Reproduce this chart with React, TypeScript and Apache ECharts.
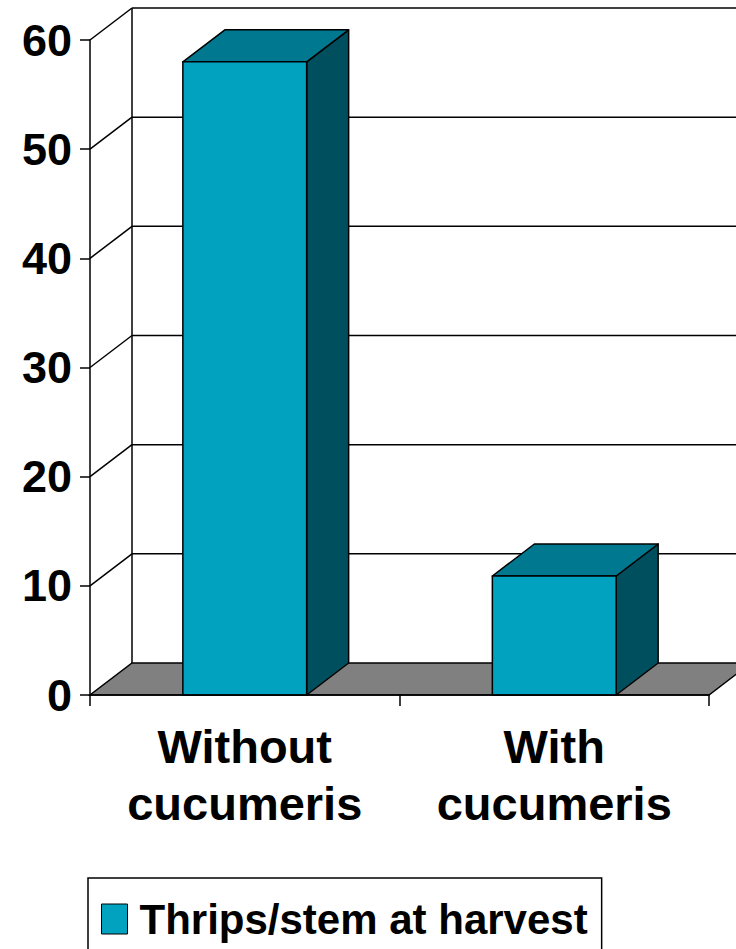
import React, { useEffect, useRef } from "react";
import * as echarts from "echarts";

const categories = ["Without\ncucumeris", "With\ncucumeris"];
const seriesName = "Thrips/stem at harvest";
const thripsPerStem = [58, 10.9];
const yTickValues = [0, 10, 20, 30, 40, 50, 60];

const FONT = "'Liberation Sans', Arial, Helvetica, sans-serif";
const DX = 42;
const DY = -32;
const LINE = "#000000";
const FRONT = "#00A2C0";
const TOP = "#007890";
const SIDE = "#004F5E";
const FLOOR = "#808080";

export default function App() {
  const ref = useRef<HTMLDivElement>(null);
  useEffect(() => {
    if (!ref.current) return;
    const chart = echarts.init(ref.current, null, { renderer: "svg" });
    const option: any = {
      animation: false,
      backgroundColor: "#ffffff",
      grid: { left: 90, right: 27, top: 40, bottom: 254, containLabel: false },
      xAxis: {
        type: "category",
        data: categories,
        boundaryGap: true,
        axisLine: { show: true, lineStyle: { color: LINE, width: 1.5 } },
        axisTick: { show: true, length: 11, lineStyle: { color: LINE, width: 1.5 } },
        axisLabel: {
          color: "#000",
          fontFamily: FONT,
          fontWeight: "bold",
          fontSize: 47,
          lineHeight: 57,
          margin: 23,
          interval: 0,
        },
        splitLine: { show: false },
        z: 5,
      },
      yAxis: {
        type: "value",
        min: 0,
        max: 60,
        interval: 10,
        axisLine: { show: true, lineStyle: { color: LINE, width: 1.5 } },
        axisTick: { show: true, length: 10, lineStyle: { color: LINE, width: 1.5 } },
        axisLabel: {
          color: "#000",
          fontFamily: FONT,
          fontWeight: "bold",
          fontSize: 45,
          margin: 18,
        },
        splitLine: { show: false },
        z: 5,
      },
      legend: {
        show: true,
        left: 88,
        top: 878,
        orient: "horizontal",
        padding: [20, 14, 40, 13],
        borderColor: "#000",
        borderWidth: 1.5,
        itemWidth: 26,
        itemHeight: 30,
        data: [
          {
            name: seriesName,
            icon: "rect",
            itemStyle: { color: FRONT, borderColor: "#000", borderWidth: 1 },
          },
        ],
        textStyle: {
          color: "#000",
          fontFamily: FONT,
          fontWeight: "bold",
          fontSize: 42,
          padding: [0, 0, 0, 7],
        },
      },
      series: [
        {
          type: "custom",
          name: "walls",
          silent: true,
          clip: false,
          z: 1,
          data: [[0, 0]],
          renderItem: (params: any, api: any) => {
            const cs = params.coordSys;
            const x0 = cs.x;
            const x1 = cs.x + cs.width;
            const y0 = api.coord([0, 0])[1];
            const children: any[] = [];
            children.push({
              type: "polygon",
              shape: {
                points: [
                  [x0, y0],
                  [x1, y0],
                  [x1 + DX, y0 + DY],
                  [x0 + DX, y0 + DY],
                ],
              },
              style: { fill: FLOOR, stroke: LINE, lineWidth: 1.5 },
            });
            let yTopBack = y0 + DY;
            yTickValues.forEach((v) => {
              const y = api.coord([0, v])[1];
              if (v > 0) {
                children.push({
                  type: "line",
                  shape: { x1: x0, y1: y, x2: x0 + DX, y2: y + DY },
                  style: { stroke: LINE, lineWidth: 1.5 },
                });
                children.push({
                  type: "line",
                  shape: { x1: x0 + DX, y1: y + DY, x2: x1 + DX, y2: y + DY },
                  style: { stroke: LINE, lineWidth: 1.5 },
                });
              }
              yTopBack = Math.min(yTopBack, y + DY);
            });
            children.push({
              type: "line",
              shape: { x1: x0 + DX, y1: yTopBack, x2: x0 + DX, y2: y0 + DY },
              style: { stroke: LINE, lineWidth: 1.5 },
            });
            return { type: "group", children };
          },
        },
        {
          type: "custom",
          name: seriesName,
          clip: false,
          z: 3,
          itemStyle: { color: FRONT, borderColor: "#000" },
          data: thripsPerStem.map((v, i) => [i, v]),
          renderItem: (params: any, api: any) => {
            const idx = api.value(0);
            const val = api.value(1);
            const top = api.coord([idx, val]);
            const base = api.coord([idx, 0]);
            const w = api.size([1, 0])[0] * 0.4;
            const xl = top[0] - w / 2;
            const xr = top[0] + w / 2;
            const yt = top[1];
            const yb = base[1];
            const stroke = { stroke: LINE, lineWidth: 1.5, lineJoin: "round" };
            return {
              type: "group",
              children: [
                {
                  type: "polygon",
                  shape: {
                    points: [
                      [xr, yt],
                      [xr + DX, yt + DY],
                      [xr + DX, yb + DY],
                      [xr, yb],
                    ],
                  },
                  style: { fill: SIDE, ...stroke },
                },
                {
                  type: "polygon",
                  shape: {
                    points: [
                      [xl, yt],
                      [xr, yt],
                      [xr + DX, yt + DY],
                      [xl + DX, yt + DY],
                    ],
                  },
                  style: { fill: TOP, ...stroke },
                },
                {
                  type: "rect",
                  shape: { x: xl, y: yt, width: w, height: yb - yt },
                  style: { fill: FRONT, ...stroke },
                },
              ],
            };
          },
        },
      ],
    };
    chart.setOption(option);
    return () => chart.dispose();
  }, []);
  return (
    <div
      ref={ref}
      style={{ width: 736, height: 949, position: "absolute", left: 0, top: 0 }}
    />
  );
}
